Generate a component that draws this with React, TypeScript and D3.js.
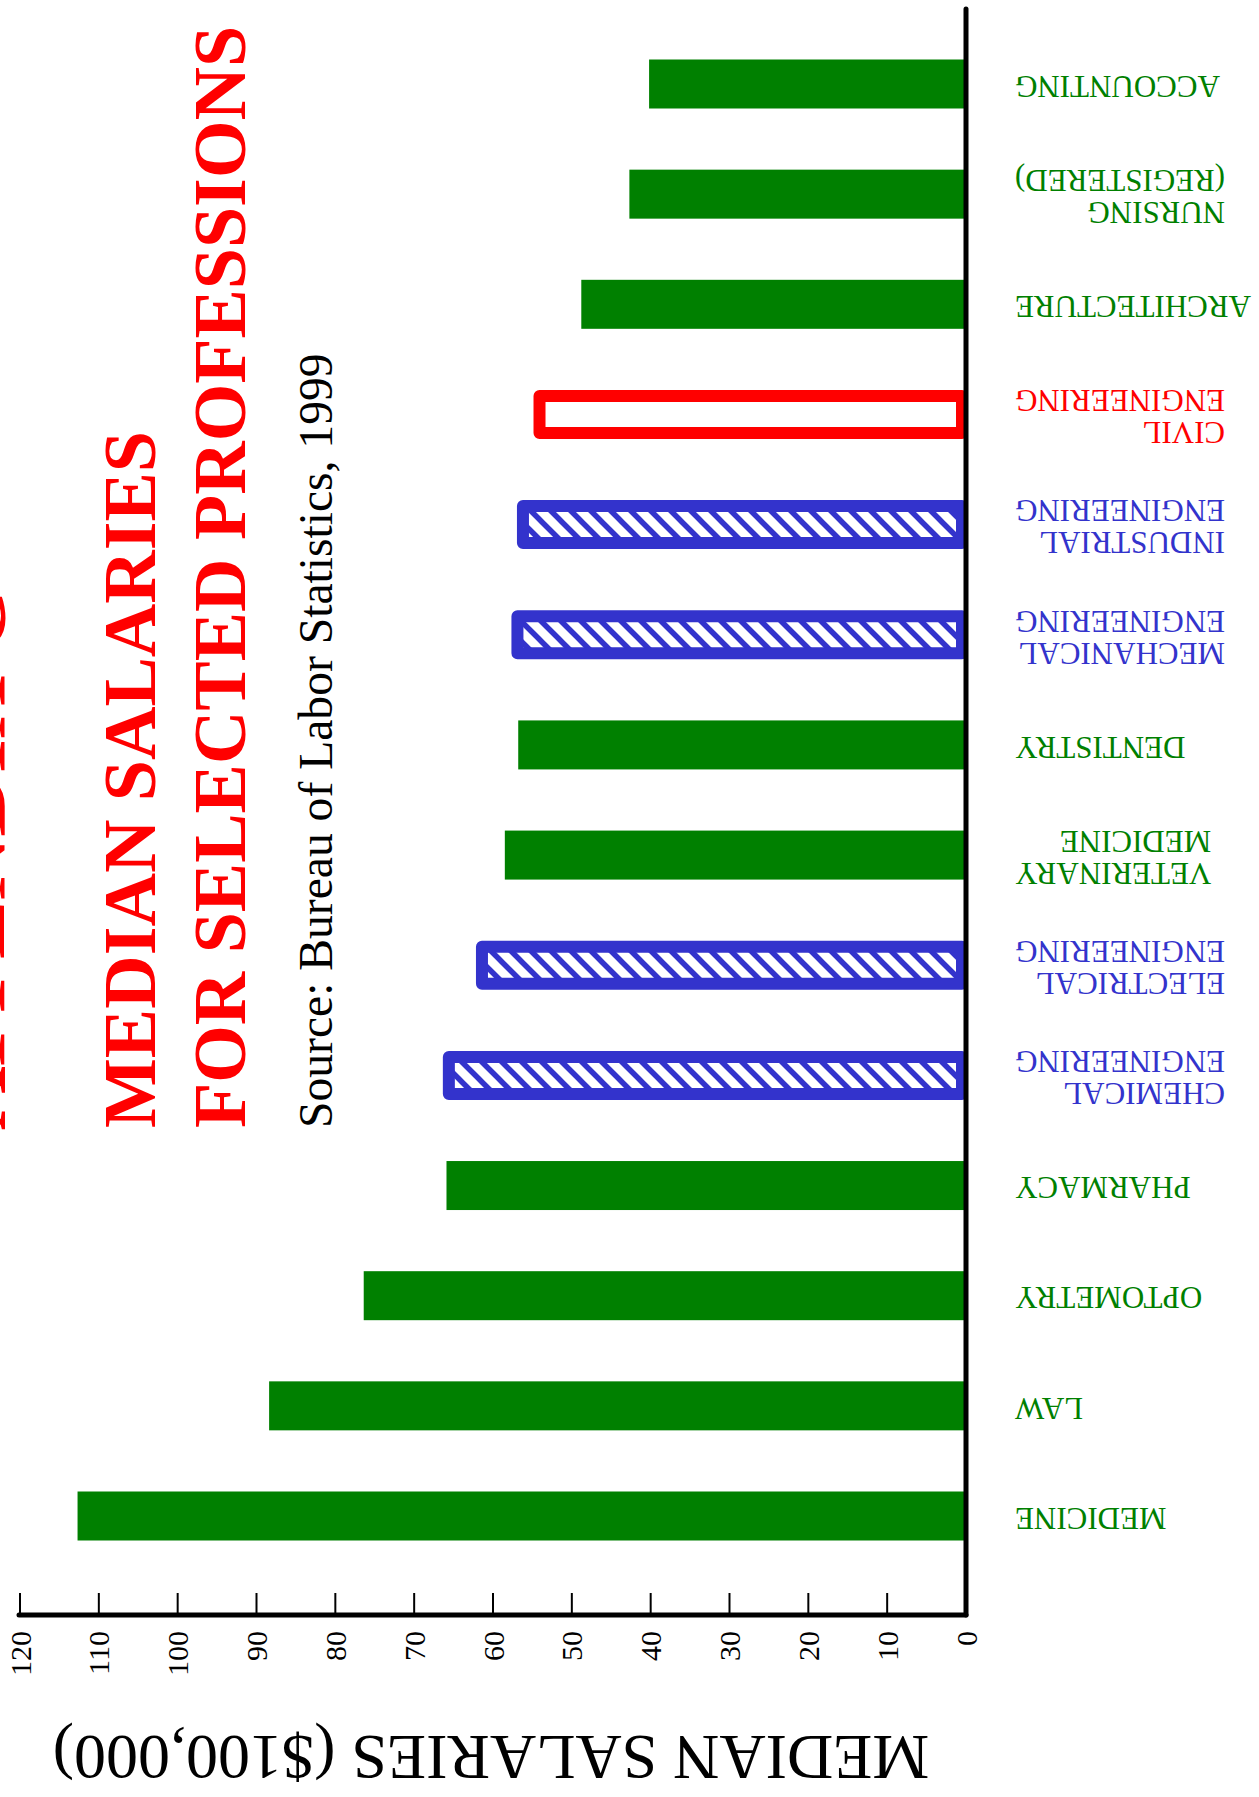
import React, { useMemo } from "react";
import * as d3 from "d3";

// ---------- data ----------
const categories: string[] = [
  "ACCOUNTING",
  "NURSING\n(REGISTERED)",
  "ARCHITECTURE",
  "CIVIL\nENGINEERING",
  "INDUSTRIAL\nENGINEERING",
  "MECHANICAL\nENGINEERING",
  "DENTISTRY",
  "VETERINARY\nMEDICINE",
  "ELECTRICAL\nENGINEERING",
  "CHEMICAL\nENGINEERING",
  "PHARMACY",
  "OPTOMETRY",
  "LAW",
  "MEDICINE",
];
const salaries: number[] = [40.2, 42.7, 48.8, 54.1, 56.2, 56.9, 56.8, 58.5, 61.4, 65.6, 65.9, 76.4, 88.4, 112.7];
// group of each profession: other / civil engineering / other engineering
const groups: string[] = [
  "other", "other", "other", "civil", "engineering", "engineering", "other",
  "other", "engineering", "engineering", "other", "other", "other", "other",
];
const tickValues: number[] = [0, 10, 20, 30, 40, 50, 60, 70, 80, 90, 100, 110, 120];
const titleLines: string[] = ["APPENDIX C", "MEDIAN SALARIES", "FOR SELECTED PROFESSIONS"];
const sourceText = "Source: Bureau of Labor Statistics, 1999";
const axisTitle = "MEDIAN SALARIES ($100,000)";

// ---------- styles ----------
const GREEN = "#008000";
const BLUE = "#3333cc";
const RED = "#ff0000";
const FONT = "'Liberation Serif', 'Times New Roman', Times, serif";

const W = 1259;
const H = 1797;

const groupColor: Record<string, string> = { other: GREEN, civil: RED, engineering: BLUE };

export default function App() {
  const x = d3.scaleLinear().domain([0, 120]).range([966, 20]);
  const y = d3
    .scalePoint<number>()
    .domain(categories.map((_, i) => i))
    .range([84, 1516]);

  const axisY = 1615;
  const barH = 49;
  const outlineW = 12;

  const labelSize = 31;
  const lineGap = 32;
  const capH = labelSize * 0.662;
  const labelEdge = 1015;

  const widths = useMemo(() => {
    const c = document.createElement("canvas");
    const ctx = c.getContext("2d")!;
    ctx.font = `${labelSize}px 'Liberation Serif'`;
    return categories.map((cat) => Math.max(...cat.split("\n").map((l) => ctx.measureText(l).width)));
  }, []);

  return (
    <svg
      width={W}
      height={H}
      viewBox={`0 0 ${W} ${H}`}
      style={{ position: "absolute", left: 0, top: 0, background: "#fff", overflow: "hidden" }}
    >
      <defs>
        <pattern id="hatch" patternUnits="userSpaceOnUse" width={20} height={20}>
          <rect width={20} height={20} fill="#fff" />
          <path
            d="M-5,-5 L25,25 M-5,15 L5,25 M15,-5 L25,5"
            stroke={BLUE}
            strokeWidth={5.5}
          />
        </pattern>
      </defs>
      <rect width={W} height={H} fill="#fff" />

      {/* title block, rotated */}
      <g fontFamily={FONT} fill={RED} fontWeight="bold">
        <text transform={`translate(4,1130) rotate(-90)`} fontSize={88}>
          {titleLines[0]}
        </text>
        <text transform={`translate(155,1128) rotate(-90)`} fontSize={74}>
          {titleLines[1]}
        </text>
        <text transform={`translate(245,1128) rotate(-90)`} fontSize={74}>
          {titleLines[2]}
        </text>
      </g>
      <text
        transform={`translate(332,1128) rotate(-90)`}
        fontFamily={FONT}
        fontSize={47.6}
        fill="#000"
      >
        {sourceText}
      </text>

      {/* bars */}
      {salaries.map((v, i) => {
        const yc = y(i)!;
        const g = groups[i];
        if (g === "other") {
          return (
            <rect
              key={i}
              x={x(v)}
              y={yc - barH / 2}
              width={x(0) - x(v)}
              height={barH}
              fill={GREEN}
            />
          );
        }
        return (
          <rect
            key={i}
            x={x(v)}
            y={yc - (barH - outlineW) / 2}
            width={x(0) - 4 - x(v)}
            height={barH - outlineW}
            fill={g === "civil" ? "#fff" : "url(#hatch)"}
            stroke={groupColor[g]}
            strokeWidth={outlineW}
            strokeLinejoin="round"
          />
        );
      })}

      {/* category labels, upside down */}
      {categories.map((cat, i) => {
        const lines = cat.split("\n");
        const n = lines.length;
        const yc = y(i)! + 2;
        const yTop = yc - ((n - 1) * lineGap + capH) / 2;
        const startX = labelEdge + widths[i];
        return (
          <g key={i} fontFamily={FONT} fontSize={labelSize} fill={groupColor[groups[i]]}>
            {lines.map((line, j) => (
              <text
                key={j}
                transform={`translate(${startX},${yTop + (n - 1 - j) * lineGap}) rotate(180)`}
                textAnchor="start"
              >
                {line}
              </text>
            ))}
          </g>
        );
      })}

      {/* axes */}
      <g stroke="#000" fill="none">
        {tickValues.map((t) => (
          <line key={t} x1={x(t)} x2={x(t)} y1={axisY} y2={axisY - 22} strokeWidth={2} />
        ))}
        <line x1={x(0)} x2={x(0)} y1={9} y2={axisY} strokeWidth={5} strokeLinecap="round" />
        <line x1={x(120) - 1} x2={x(0)} y1={axisY} y2={axisY} strokeWidth={5} strokeLinecap="round" />
      </g>
      <g fontFamily={FONT} fontSize={30} fill="#000">
        {tickValues.map((t) => (
          <text
            key={t}
            transform={`translate(${x(t)},${axisY + 16}) rotate(-90)`}
            textAnchor="end"
            dy="0.35em"
          >
            {t}
          </text>
        ))}
      </g>
      <text
        transform={`translate(491,1736) rotate(180)`}
        textAnchor="middle"
        fontFamily={FONT}
        fontSize={64}
        fill="#000"
      >
        {axisTitle}
      </text>
    </svg>
  );
}
